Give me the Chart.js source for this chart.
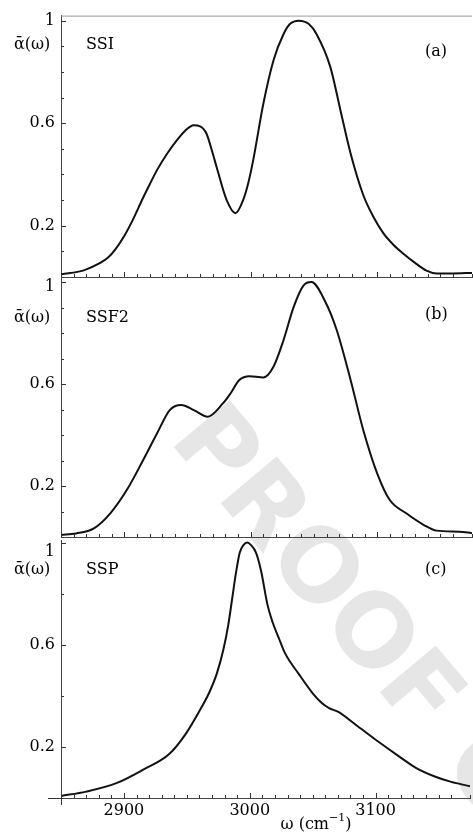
<!DOCTYPE html>
<html>
<head>
<meta charset="utf-8">
<script src="https://cdn.jsdelivr.net/npm/chart.js@4.4.0/dist/chart.umd.min.js"></script>
<style>
  body { margin: 0; background: #fff; }
  #wrap { position: relative; width: 473px; height: 833px; }
  #wrap canvas { position: absolute; left: 0; top: 0; }
</style>
</head>
<body>
<div id="wrap">
  <canvas id="chartA" width="473" height="833"></canvas>
  <canvas id="chartB" width="473" height="833"></canvas>
  <canvas id="chartC" width="473" height="833"></canvas>
</div>
<script>
// panel (a) SSI
const ssiOmega = [2850, 2868, 2881, 2887, 2893, 2900, 2907, 2915, 2920, 2926, 2934, 2942, 2948, 2955, 2960, 2965, 2970, 2973, 2981, 2988, 2994, 2998, 3002, 3010, 3018, 3026, 3031, 3038, 3046, 3052, 3063, 3071, 3079, 3089, 3097, 3105, 3113, 3121, 3130, 3139, 3147, 3160, 3175];
const ssiAlpha = [0.01, 0.026, 0.055, 0.075, 0.108, 0.16, 0.225, 0.31, 0.36, 0.418, 0.482, 0.536, 0.57, 0.592, 0.588, 0.56, 0.482, 0.43, 0.30, 0.249, 0.30, 0.365, 0.456, 0.676, 0.845, 0.948, 0.987, 1.0, 0.987, 0.948, 0.819, 0.65, 0.482, 0.32, 0.235, 0.17, 0.125, 0.09, 0.055, 0.025, 0.014, 0.014, 0.016];

// panel (b) SSF2
const ssf2Omega = [2850, 2862, 2876, 2889, 2902, 2915, 2926, 2936, 2945, 2955, 2966, 2978, 2984, 2991, 2999, 3010, 3018, 3026, 3034, 3042, 3048, 3059, 3068, 3079, 3089, 3100, 3110, 3123, 3137, 3147, 3165, 3175];
const ssf2Alpha = [0.008, 0.014, 0.034, 0.093, 0.184, 0.302, 0.407, 0.498, 0.518, 0.498, 0.472, 0.524, 0.563, 0.616, 0.631, 0.626, 0.668, 0.773, 0.903, 0.988, 1.0, 0.923, 0.812, 0.616, 0.42, 0.25, 0.145, 0.093, 0.047, 0.025, 0.021, 0.015];

// panel (c) SSP
const sspOmega = [2850, 2870, 2894, 2915, 2936, 2949, 2962, 2968, 2974, 2979, 2983, 2986, 2989, 2992, 2995, 2998, 3001, 3005, 3009, 3014, 3018, 3023, 3028, 3039, 3050, 3057, 3063, 3070, 3086, 3102, 3118, 3132, 3147, 3160, 3175];
const sspAlpha = [0.008, 0.025, 0.058, 0.11, 0.172, 0.25, 0.358, 0.415, 0.49, 0.58, 0.68, 0.78, 0.88, 0.96, 0.99, 1.0, 0.99, 0.96, 0.889, 0.758, 0.69, 0.627, 0.567, 0.485, 0.41, 0.373, 0.352, 0.338, 0.28, 0.221, 0.165, 0.118, 0.084, 0.063, 0.046];

const xTickLabels = [2900, 3000, 3100];
const yTickLabels = [0.2, 0.6, 1];

const serif = "'DejaVu Serif', serif";

function toPoints(xs, ys) {
  return xs.map((x, i) => ({ x: x, y: ys[i] }));
}
function isLabel(v, list) {
  return list.some(l => Math.abs(l - v) < 1e-6);
}

// the frame ticks point inward, so they are drawn here
const frameTicks = {
  id: 'frameTicks',
  afterDraw(chart, args, opts) {
    const ctx = chart.ctx, area = chart.chartArea;
    const xs = chart.scales.x, ys = chart.scales.y;
    ctx.save();
    ctx.strokeStyle = '#333';
    ctx.lineWidth = 1;
    ctx.beginPath();
    xs.ticks.forEach(t => {
      const px = Math.round(xs.getPixelForValue(t.value)) + 0.5;
      const len = isLabel(t.value, xTickLabels) ? 5 : 3;
      ctx.moveTo(px, area.bottom);
      ctx.lineTo(px, area.bottom - len);
    });
    ys.ticks.forEach(t => {
      const py = Math.round(ys.getPixelForValue(t.value)) + 0.5;
      const len = isLabel(t.value, yTickLabels) ? 5 : 3;
      ctx.moveTo(area.left, py);
      ctx.lineTo(area.left + len, py);
    });
    if (opts.extend) {
      ctx.moveTo(area.left + 0.5, area.bottom);
      ctx.lineTo(area.left + 0.5, area.bottom + 7);
      ctx.moveTo(area.left - 13, area.bottom + 0.5);
      ctx.lineTo(area.left, area.bottom + 0.5);
    }
    ctx.stroke();
    if (opts.topLine) {
      ctx.strokeStyle = '#999';
      ctx.beginPath();
      ctx.moveTo(area.left, area.top + 0.5);
      ctx.lineTo(area.right, area.top + 0.5);
      ctx.stroke();
    }
    ctx.restore();
  }
};

const panelText = {
  id: 'panelText',
  afterDraw(chart, args, opts) {
    const ctx = chart.ctx;
    ctx.save();
    ctx.fillStyle = '#000';
    ctx.font = '16px ' + serif;
    ctx.textBaseline = 'middle';
    ctx.textAlign = 'left';
    ctx.fillText('ᾱ(ω)', 14, opts.y);
    ctx.fillText(opts.name, 86, opts.y);
    ctx.fillText(opts.tag, 425, opts.tagY);
    if (opts.xTitle) {
      ctx.textBaseline = 'alphabetic';
      const a = 'ω (cm', sup = '−1', b = ')';
      const wa = ctx.measureText(a).width, wb = ctx.measureText(b).width;
      ctx.font = '11px ' + serif;
      const ws = ctx.measureText(sup).width;
      const x0 = 316 - (wa + ws + wb) / 2;
      ctx.font = '16px ' + serif;
      ctx.fillText(a, x0, 829);
      ctx.fillText(b, x0 + wa + ws, 829);
      ctx.font = '11px ' + serif;
      ctx.fillText(sup, x0 + wa, 821);
    }
    ctx.restore();
  }
};

const watermark = {
  id: 'watermark',
  beforeDraw(chart) {
    const ctx = chart.ctx;
    ctx.save();
    ctx.translate(168, 440);
    ctx.rotate(50 * Math.PI / 180);
    ctx.font = "bold 100px 'DejaVu Sans', sans-serif";
    ctx.fillStyle = '#e6e6e6';
    ctx.fillText('PROOF COPY', 0, 0);
    ctx.restore();
  }
};

function makeChart(id, omega, alpha, cfg) {
  return new Chart(document.getElementById(id), {
    type: 'line',
    data: {
      datasets: [{
        data: toPoints(omega, alpha),
        borderColor: '#111',
        borderWidth: 2,
        pointRadius: 0,
        cubicInterpolationMode: 'monotone',
        fill: false
      }]
    },
    options: {
      responsive: false,
      animation: false,
      layout: { padding: { top: cfg.top, bottom: cfg.bottom, left: 0, right: 1 } },
      plugins: {
        legend: { display: false },
        tooltip: { enabled: false },
        panelText: cfg.text,
        frameTicks: { topLine: cfg.topLine, extend: cfg.extend }
      },
      scales: {
        x: {
          type: 'linear',
          min: 2850,
          max: 3175,
          grid: { display: false, drawTicks: false, tickLength: 0 },
          border: { color: '#444', width: 1 },
          ticks: {
            display: cfg.showX,
            stepSize: 10,
            autoSkip: false,
            maxRotation: 0,
            padding: 3,
            color: '#000',
            font: { family: serif, size: 16 },
            callback: v => isLabel(v, xTickLabels) ? String(v) : ''
          },
          afterFit: s => { s.height = cfg.xHeight; }
        },
        y: {
          type: 'linear',
          min: 0,
          max: cfg.yMax,
          grid: { display: false, drawTicks: false, tickLength: 0 },
          border: { color: '#444', width: 1 },
          ticks: {
            stepSize: 0.1,
            includeBounds: false,
            padding: 6,
            color: '#000',
            font: { family: serif, size: 16, lineHeight: cfg.oneShift },
            callback: v => {
              if (!isLabel(v, yTickLabels)) return '';
              if (Math.abs(v - 1) < 1e-6) return cfg.oneShift ? ['', '1'] : '1';
              return v.toFixed(1);
            }
          },
          afterFit: s => { s.width = 61; }
        }
      }
    },
    plugins: [frameTicks, panelText].concat(cfg.extra || [])
  });
}

makeChart('chartA', ssiOmega, ssiAlpha, {
  top: 15, bottom: 556, xHeight: 0, showX: false, yMax: 1.02, topLine: true,
  text: { name: 'SSI', tag: '(a)', y: 45, tagY: 52 },
  extra: [watermark]
});
makeChart('chartB', ssf2Omega, ssf2Alpha, {
  top: 277, bottom: 296, xHeight: 0, showX: false, yMax: 1.02, oneShift: 0.6,
  text: { name: 'SSF2', tag: '(b)', y: 318, tagY: 315 }
});
makeChart('chartC', sspOmega, sspAlpha, {
  top: 540, bottom: 0, xHeight: 35, showX: true, yMax: 1.01, oneShift: 1.1, extend: true,
  text: { name: 'SSP', tag: '(c)', y: 570, tagY: 570, xTitle: true }
});
</script>
</body>
</html>
